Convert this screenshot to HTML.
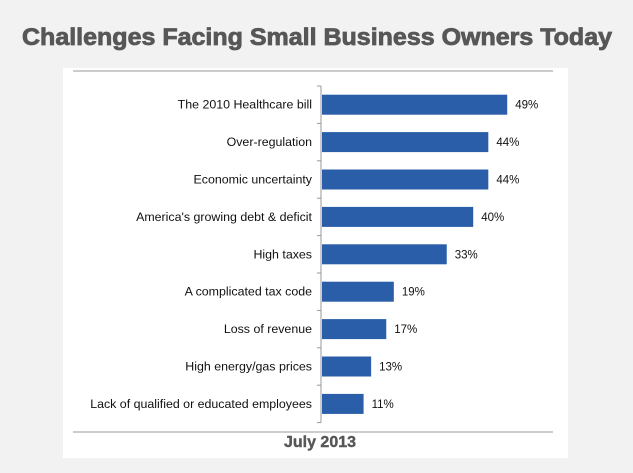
<!DOCTYPE html>
<html><head><meta charset="utf-8"><style>
body{margin:0;width:633px;height:468px;background:#f2f2f2;overflow:hidden;font-family:"Liberation Sans",sans-serif}
</style></head><body>
<svg width="633" height="468">
<text x="317" y="45" text-anchor="middle" font-family="Liberation Sans" font-weight="bold" font-size="24" fill="#575757" stroke="#575757" stroke-width="0.8" textLength="590" lengthAdjust="spacingAndGlyphs">Challenges Facing Small Business Owners Today</text>
<rect x="63" y="68" width="505" height="390" fill="#fff"/>
<line x1="73" y1="71" x2="553" y2="71" stroke="#999" stroke-width="1"/>
<line x1="73" y1="432" x2="553" y2="432" stroke="#999" stroke-width="1"/>
<text x="320" y="447" text-anchor="middle" font-weight="bold" font-size="16" fill="#575757" stroke="#575757" stroke-width="0.4">July 2013</text>
<g id="plot"></g>
</svg>
<script>
const categories=["The 2010 Healthcare bill","Over-regulation","Economic uncertainty","America's growing debt & deficit","High taxes","A complicated tax code","Loss of revenue","High energy/gas prices","Lack of qualified or educated employees"];
const values=[49,44,44,40,33,19,17,13,11];
const valueLabels=["49%","44%","44%","40%","33%","19%","17%","13%","11%"];
const x0=322,pxPer=3.78,yTop=86,band=37.4,barH=20;
const xs=v=>x0+v*pxPer;
const yc=i=>yTop+band*i+band/2;
const g=document.getElementById('plot');
const NS='http://www.w3.org/2000/svg';
function mk(t,a){const e=document.createElementNS(NS,t);for(const k in a)e.setAttribute(k,a[k]);g.appendChild(e);return e;}
const ax=mk('line',{x1:x0-1,y1:yTop,x2:x0-1,y2:yTop+band*categories.length,stroke:'#999'});


for(let i=0;i<=categories.length;i++){
 const t=mk('line',{x1:x0-5,y1:yTop+band*i,x2:x0-1,y2:yTop+band*i,stroke:'#999'});
 
 
}
categories.forEach((c,i)=>{
 const y=yc(i);
 const b=mk('rect',{x:x0,y:y-barH/2,width:xs(values[i])-x0,height:barH,fill:'#2a5ea8'});
 
 
 const l=mk('text',{x:312,y:y+4,'text-anchor':'end','font-size':'12.4',fill:'#111'});
 l.textContent=c;
 
 
 const v=mk('text',{x:xs(values[i])+8,y:y+4,'font-size':'11.5',fill:'#111'});
 v.textContent=valueLabels[i];
 
 
});
</script>
</body></html>
